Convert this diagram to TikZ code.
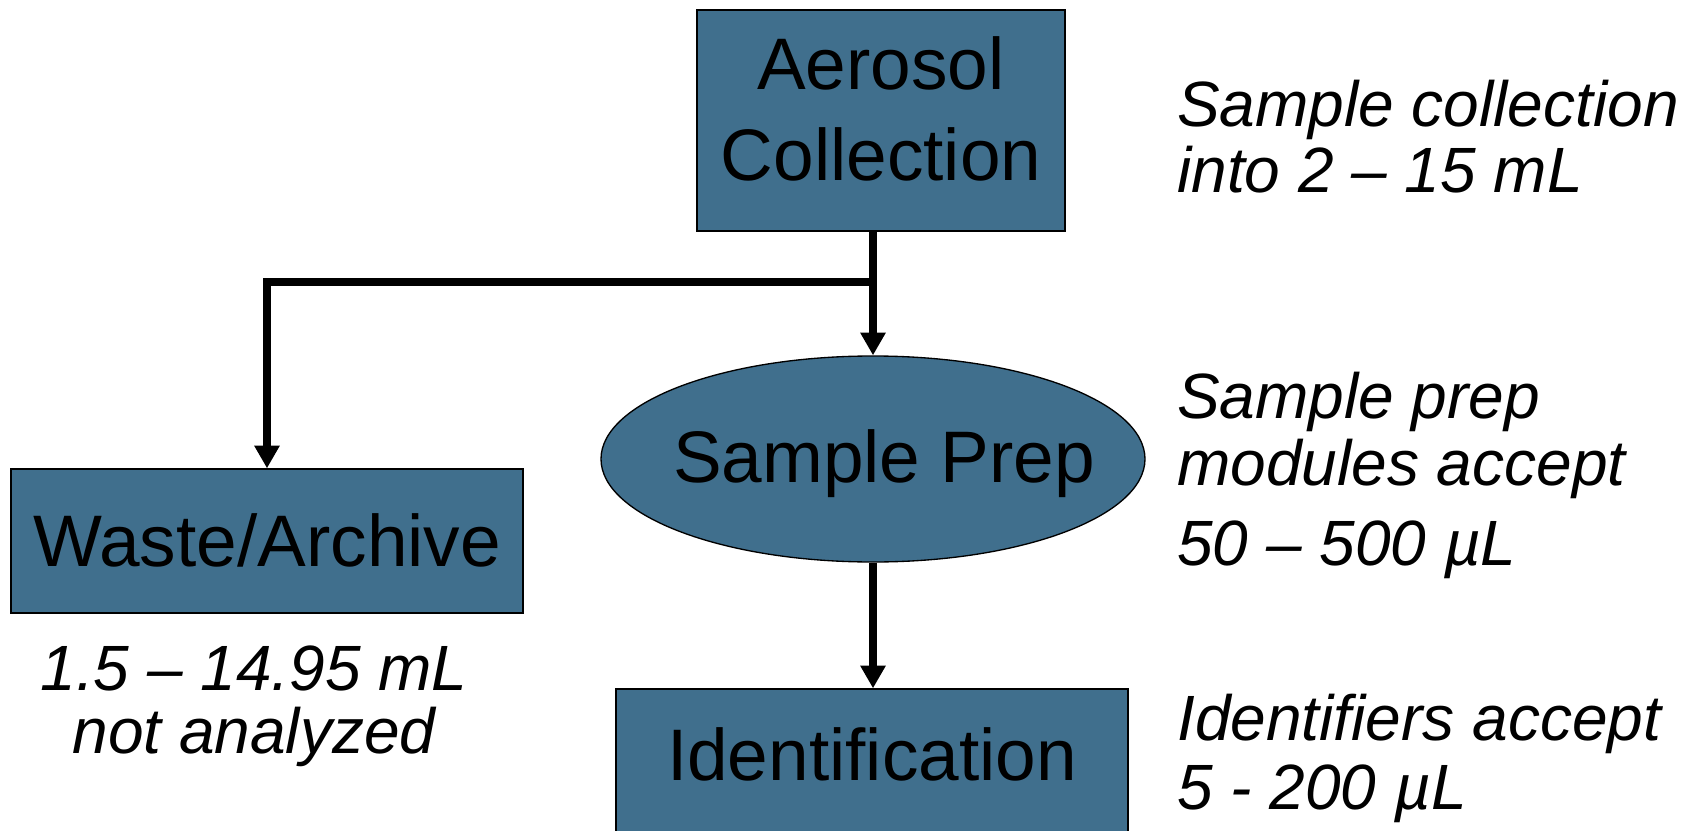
\documentclass[tikz,border=0pt]{standalone}
\usepackage{fontspec}
\setmainfont{Liberation Sans}
\usetikzlibrary{arrows.meta,shapes.geometric}
\definecolor{boxblue}{RGB}{64,111,141}
\begin{document}
\begin{tikzpicture}[x=0.75pt,y=-0.75pt,
  box/.style={draw=black, line width=1pt, fill=boxblue, inner sep=0pt,
    font=\fontsize{54.75}{68.25}\selectfont, align=center},
  note/.style={inner sep=0pt, align=left},
  flow/.style={line width=5.5pt, -{Triangle[length=17pt,width=18pt]}},
]
\useasboundingbox (0,0) rectangle (1681,831);
\clip (0,0) rectangle (1681,831);
\node[box, minimum width=276pt, minimum height=165.75pt, text depth=18pt] (aer) at (881,120.5) {Aerosol\\Collection};
\node[box, ellipse, minimum width=408pt, minimum height=154.5pt, text height=37.5pt, text depth=3pt] (prep) at (873,459) {\makebox[0pt]{\kern16.5pt Sample Prep}};
\node[box, minimum width=384pt, minimum height=108pt, text height=39pt, text depth=1.5pt] (waste) at (267,541) {Waste/Archive};
\node[box, minimum width=384pt, minimum height=136.5pt, text height=15pt, text depth=15pt] (ident) at (872,780) {Identification};
\coordinate (j) at (873,282);
\draw[flow] (prep.north |- aer.south) -- (prep.north);
\draw[flow] (j) -| (waste.north);
\draw[flow] (prep.south) -- (prep.south |- ident.north);
\node[note, anchor=base west, font=\fontsize{48}{49.9}\selectfont\itshape] (n1) at (1177,193) {Sample collection\\into 2 – 15 mL};
\node[note, anchor=base west, font=\fontsize{48}{50.25}\selectfont\itshape] (n2) at (1177,565) {Sample prep\\modules accept\\[9.75pt]50 – 500 µL};
\node[note, anchor=base west, font=\fontsize{48}{51.75}\selectfont\itshape] (n3) at (1177,809) {Identifiers accept\\5 - 200 µL};
\node[note, anchor=base, align=center, font=\fontsize{48}{47.25}\selectfont\itshape] (n4) at (254,753) {1.5 – 14.95 mL\\not analyzed};
\end{tikzpicture}
\end{document}
